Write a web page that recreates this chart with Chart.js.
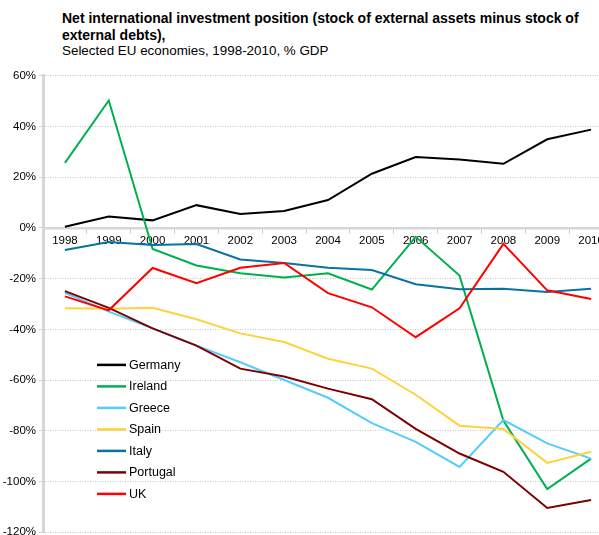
<!DOCTYPE html>
<html><head><meta charset="utf-8">
<script src="https://cdn.jsdelivr.net/npm/chart.js@4/dist/chart.umd.min.js"></script>
<style>
html,body{margin:0;padding:0;width:599px;height:535px;overflow:hidden;background:#fff;font-family:"Liberation Sans",Arial,sans-serif;}
#t1{position:absolute;left:62px;top:10px;font-weight:bold;font-size:14px;line-height:17px;color:#000;width:560px;white-space:nowrap;}
#t2{position:absolute;left:62px;top:43px;font-size:13.4px;line-height:15px;color:#000;white-space:nowrap;}
#wrap{position:absolute;left:0;top:66px;width:613px;height:476px;}
</style></head><body>
<div id="t1">Net international investment position (stock of external assets minus stock of<br>external debts),</div>
<div id="t2">Selected EU economies, 1998-2010, % GDP</div>
<div id="wrap"><canvas id="c"></canvas></div>
<script>
const years = ["1998","1999","2000","2001","2002","2003","2004","2005","2006","2007","2008","2009","2010"];
const seriesNames = ["Germany","Ireland","Greece","Spain","Italy","Portugal","UK"];
const germany  = [0.5, 4.5, 3, 9, 5.5, 6.7, 11, 21.4, 28, 27, 25.3, 35, 38.8];
const ireland  = [25.7, 50.3, -8.3, -14.8, -17.9, -19.5, -17.9, -24.3, -3.5, -18.8, -76, -103, -91];
const greece   = [-25.6, -33, -39.6, -46.4, -53, -60, -67, -77, -84.4, -94.3, -75.8, -85, -91];
const spain    = [-31.7, -31.9, -31.5, -36, -41.6, -45, -51.6, -55.5, -65.8, -78, -79.3, -92.7, -88.3];
const italy    = [-8.7, -5.5, -6.7, -6.3, -12.4, -13.8, -15.7, -16.6, -22.2, -24.2, -24, -25.3, -24];
const portugal = [-24.9, -31.5, -39.6, -46.4, -55.5, -58.6, -63.4, -67.6, -79.3, -89, -96.2, -110.5, -107.3];
const uk       = [-27, -32.5, -15.8, -21.8, -15.7, -13.8, -25.7, -31.3, -43.1, -31.7, -6.3, -24.6, -28];
const yTicks = [60, 40, 20, 0, -20, -40, -60, -80, -100, -120];
const colors = ["#000000","#00B050","#55CCFF","#FFD23C","#0A72A0","#7F0000","#FF0000"];
const allSeries = [germany, ireland, greece, spain, italy, portugal, uk];

const legendPlugin = {
  id: 'inlegend',
  afterDraw(chart) {
    const ctx = chart.ctx, a = chart.chartArea;
    ctx.save();
    ctx.font = '12.5px "Liberation Sans", Arial, sans-serif';
    ctx.textBaseline = 'middle';
    chart.data.datasets.forEach((ds, i) => {
      const y = a.top + 289 + i * 21.5;
      ctx.strokeStyle = ds.borderColor; ctx.lineWidth = 2.5;
      ctx.beginPath(); ctx.moveTo(a.left + 54, y); ctx.lineTo(a.left + 83, y); ctx.stroke();
      ctx.fillStyle = '#000';
      ctx.fillText(ds.label, a.left + 86, y + 0.5);
    });
    ctx.restore();
  }
};

new Chart(document.getElementById('c'), {
  type: 'line',
  data: {
    labels: years,
    datasets: seriesNames.map((n, i) => ({
      label: n, data: allSeries[i], borderColor: colors[i], backgroundColor: colors[i],
      borderWidth: 2, pointRadius: 0, tension: 0, order: seriesNames.length - i
    }))
  },
  options: {
    responsive: true, maintainAspectRatio: false, animation: false,
    layout: { padding: { top: 8, left: 0, right: 0, bottom: 0 } },
    plugins: { legend: { display: false }, tooltip: { enabled: false } },
    scales: {
      x: {
        position: { y: 0 }, offset: true,
        grid: { drawOnChartArea: false, drawTicks: true, tickLength: 4, color: '#c8c8c8', offset: true },
        border: { display: true, color: '#d6d6d6', width: 2.5 },
        ticks: { color: '#000', font: { family: '"Liberation Sans", Arial', size: 11.5 }, maxRotation: 0, autoSkip: false, padding: 2 }
      },
      y: {
        min: -120, max: 60,
        afterBuildTicks(s) { s.ticks = yTicks.map(v => ({ value: v })); },
        afterFit(s) { s.width = 43; },
        grid: { color: '#c4c4c4', tickLength: 4, tickColor: '#d0d0d0', lineWidth: 1, drawTicks: true },
        border: { display: true, color: '#d6d6d6', width: 3, dash: [1, 1.5] },
        ticks: { color: '#000', font: { family: '"Liberation Sans", Arial', size: 11.5 }, padding: 3, callback: v => v + '%' }
      }
    }
  },
  plugins: [legendPlugin]
});
</script>
</body></html>
